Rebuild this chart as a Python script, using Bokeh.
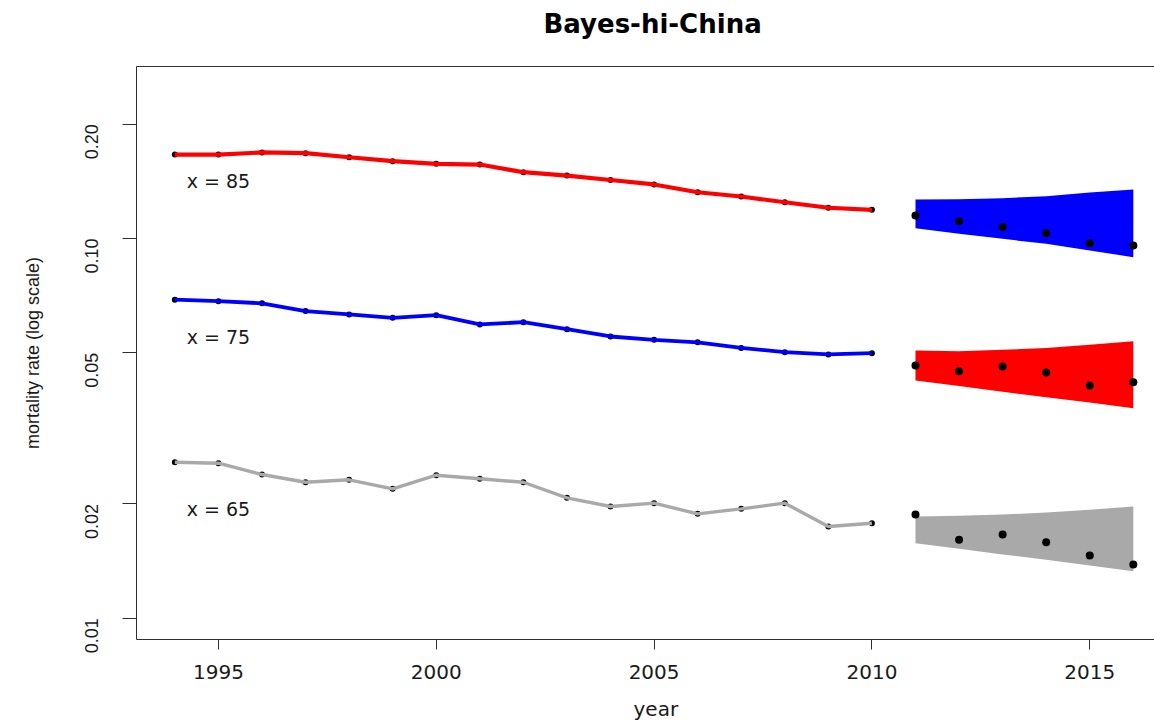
import math

from bokeh.core.properties import value
from bokeh.embed import file_html
from bokeh.models import (CustomJSTickFormatter, FixedTicker, LinearAxis, PrintfTickFormatter,
                          Range1d, Title)
from bokeh.plotting import figure
from bokeh.resources import INLINE

# observed period
years_obs = list(range(1994, 2011))
rate_85 = [0.1664, 0.1664, 0.1685, 0.1678, 0.1637, 0.1598, 0.1573, 0.1566, 0.1495,
           0.1465, 0.1426, 0.1388, 0.1324, 0.1290, 0.1246, 0.1205, 0.1190]
rate_75 = [0.0690, 0.0684, 0.0675, 0.0644, 0.0631, 0.0618, 0.0628, 0.0594, 0.0602,
           0.0577, 0.0552, 0.0541, 0.0533, 0.0515, 0.0502, 0.0495, 0.0499]
rate_65 = [0.02576, 0.02560, 0.02390, 0.02281, 0.02315, 0.02192, 0.02380, 0.02329, 0.02281,
           0.02075, 0.01969, 0.02009, 0.01883, 0.01941, 0.02009, 0.01744, 0.01779]

# forecast period: point forecasts and interval bounds
years_fc = list(range(2011, 2017))
fc_85 = [0.1150, 0.1110, 0.1073, 0.1033, 0.0972, 0.0959]
fc_85_lo = [0.1064, 0.1029, 0.0998, 0.0968, 0.0930, 0.0893]
fc_85_hi = [0.1267, 0.1269, 0.1277, 0.1292, 0.1322, 0.1346]
fc_75 = [0.0463, 0.0447, 0.0460, 0.0444, 0.0410, 0.0418]
fc_75_lo = [0.0423, 0.0409, 0.0395, 0.0382, 0.0370, 0.0357]
fc_75_hi = [0.0507, 0.0505, 0.0509, 0.0515, 0.0525, 0.0536]
fc_65 = [0.01875, 0.01609, 0.01661, 0.01586, 0.01463, 0.01384]
fc_65_lo = [0.01576, 0.01524, 0.01472, 0.01425, 0.01376, 0.01330]
fc_65_hi = [0.01853, 0.01861, 0.01875, 0.01898, 0.01929, 0.01969]

# age annotations
age_labels = ["x = 85", "x = 75", "x = 65"]
age_label_year = [1995, 1995, 1995]
age_label_rate = [0.1417, 0.0550, 0.01935]

x_ticks = [1995, 2000, 2005, 2010, 2015]
y_ticks = [0.01, 0.02, 0.05, 0.10, 0.20]

RED = "#FF0000"
BLUE = "#0000FF"
GRAY = "#A9A9A9"
INK = "#1a1a1a"
FRAME = "#303030"

p = figure(width=1154, height=723, output_backend="svg", toolbar_location=None,
           y_axis_type="log",
           x_range=Range1d(1993.12, 2016.486), y_range=Range1d(0.008789, 0.2838),
           min_border_left=136, min_border_right=0, min_border_top=66, min_border_bottom=84,
           background_fill_color="white", border_fill_color="white")
p.outline_line_color = None
p.grid.visible = False

xa = p.below[0]
ya = p.left[0]

# x axis
xa.ticker = FixedTicker(ticks=x_ticks)
xa.major_label_text_font = "DejaVu Sans"
xa.major_label_text_font_size = "20px"
xa.major_label_text_color = INK
xa.major_label_standoff = 15
xa.major_tick_out = 10
xa.major_tick_in = 0
xa.minor_tick_line_color = None
xa.minor_tick_out = 0
xa.axis_line_color = FRAME
xa.major_tick_line_color = FRAME

# y axis (log scale)
ya.ticker = FixedTicker(ticks=y_ticks)
ya.formatter = PrintfTickFormatter(format="%.2f")
ya.axis_label = "mortality rate (log scale)"
ya.axis_label_text_font = "Liberation Sans"
ya.axis_label_text_font_size = "18px"
ya.axis_label_text_font_style = "normal"
ya.axis_label_text_color = INK
ya.axis_label_standoff = 33
ya.major_label_text_font = "Liberation Sans"
ya.major_label_text_font_size = "18px"
ya.major_label_text_color = INK
ya.major_label_orientation = math.pi / 2
ya.major_label_standoff = 31
ya.major_tick_out = 14
ya.major_tick_in = 0
ya.minor_tick_line_color = None
ya.minor_tick_out = 0
ya.axis_line_color = FRAME
ya.major_tick_line_color = FRAME


def spacer(size, line_color=None):
    """An axis with hidden ticks, used as a fixed-size gap (and optional frame edge)."""
    return LinearAxis(ticker=FixedTicker(ticks=[2005]), formatter=CustomJSTickFormatter(code="return ''"),
                      major_tick_out=size, major_tick_in=0, minor_tick_out=0, minor_tick_in=0,
                      major_label_standoff=0, major_label_text_font_size="0px",
                      major_tick_line_color=None, minor_tick_line_color=None,
                      axis_line_color=line_color)


# top edge of the plot box, which also spaces the title away from the box
p.add_layout(spacer(26, FRAME), "above")

# title
p.title.text = "Bayes-hi-China"
p.title.align = "left"
p.title.offset = 407
p.title.text_font = "DejaVu Sans"
p.title.text_font_size = "26px"
p.title.text_font_style = "bold"
p.title.text_color = "black"
p.title.standoff = 4

# gap between the tick labels and the x axis title
p.add_layout(spacer(13), "below")

# x axis title, centred on the middle year of the plotting region
p.add_layout(Title(text="year", align="left", offset=497, standoff=0,
                   text_font="DejaVu Sans", text_font_size="20px",
                   text_font_style="normal", text_color=INK), "below")

# forecast bands
p.varea(x=years_fc, y1=fc_85_lo, y2=fc_85_hi, fill_color=BLUE)
p.varea(x=years_fc, y1=fc_75_lo, y2=fc_75_hi, fill_color=RED)
p.varea(x=years_fc, y1=fc_65_lo, y2=fc_65_hi, fill_color=GRAY)

# observed rates: dots under the lines
for rates, color, lw in ((rate_85, RED, 4.2), (rate_75, BLUE, 3.8), (rate_65, GRAY, 3.4)):
    p.scatter(x=years_obs, y=rates, size=6, fill_color="black", line_color=None)
    p.line(x=years_obs, y=rates, line_color=color, line_width=lw)

# point forecasts
for rates in (fc_85, fc_75, fc_65):
    p.scatter(x=years_fc, y=rates, size=8, fill_color="black", line_color=None)

p.text(x=age_label_year, y=age_label_rate, text=age_labels,
       text_font=value("DejaVu Sans"), text_font_size="19px",
       text_align="center", text_baseline="middle", text_color=INK)

open("out.html", "w").write(file_html(p, INLINE))
